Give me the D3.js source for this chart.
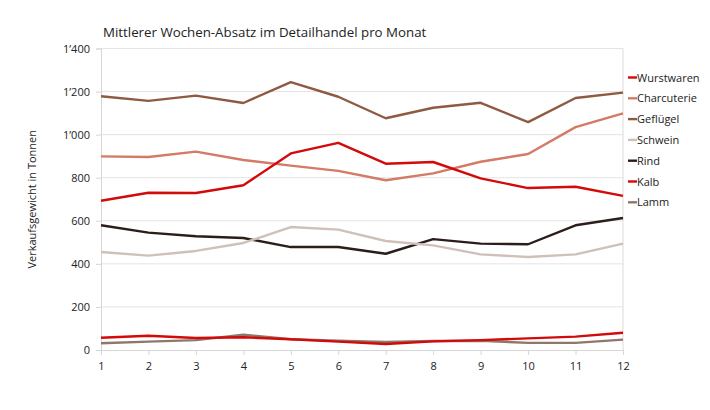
<!DOCTYPE html>
<html>
<head>
<meta charset="utf-8">
<script src="https://cdn.jsdelivr.net/npm/d3@7"></script>
<style>
  body { margin: 0; background: #fff; }
  text { font-family: "Open Sans", "Noto Sans", sans-serif; fill: #222; }
</style>
</head>
<body>
<div id="container"></div>
<script>
let w = 710;
let h = 410;

// data
let months = [1, 2, 3, 4, 5, 6, 7, 8, 9, 10, 11, 12];
let seriesNames = ["Wurstwaren", "Charcuterie", "Geflügel", "Schwein", "Rind", "Kalb", "Lamm"];
let wurstwaren = [693, 730, 729, 765, 913, 962, 865, 873, 797, 752, 758, 716];
let charcuterie = [899, 896, 921, 882, 856, 832, 788, 820, 874, 910, 1035, 1099];
let gefluegel = [1178, 1157, 1181, 1147, 1244, 1176, 1076, 1125, 1148, 1058, 1170, 1195];
let schwein = [455, 438, 460, 497, 571, 559, 506, 486, 444, 432, 444, 494];
let rind = [579, 545, 528, 520, 478, 478, 447, 515, 494, 491, 579, 613];
let kalb = [57, 66, 56, 59, 50, 39, 28, 40, 46, 54, 62, 80];
let lamm = [31, 39, 46, 71, 50, 43, 37, 42, 43, 33, 33, 48];
let yTicks = [0, 200, 400, 600, 800, 1000, 1200, 1400];
let colors = ["#d20a0a", "#d47a66", "#8e5a42", "#cfc1b9", "#2b1d1a", "#d20a0a", "#8f776a"];

let allSeries = [wurstwaren, charcuterie, gefluegel, schwein, rind, kalb, lamm];

let viz = d3.select("#container").append("svg")
    .attr("width", w)
    .attr("height", h)
    .style("display", "block");

let plotLeft = 101, plotRight = 623, plotTop = 48.5, plotBottom = 350;

let xScale = d3.scaleLinear().domain([1, 12]).range([plotLeft, plotRight]);
let yScale = d3.scaleLinear().domain([0, 1400]).range([plotBottom, plotTop]);

// gridlines
viz.append("g").selectAll("line")
  .data(yTicks.slice(1))
  .join("line")
  .attr("x1", plotLeft).attr("x2", plotRight)
  .attr("y1", d => yScale(d)).attr("y2", d => yScale(d))
  .attr("stroke", "#e4e4e4").attr("stroke-width", 1);

// right border
viz.append("line")
  .attr("x1", plotRight).attr("x2", plotRight)
  .attr("y1", plotTop).attr("y2", plotBottom)
  .attr("stroke", "#dcdcdc");

let fmt = d => d >= 1000 ? Math.floor(d / 1000) + "’" + String(d % 1000).padStart(3, "0") : String(d);

let yAxis = d3.axisLeft(yScale).tickValues(yTicks).tickFormat(fmt).tickSize(5).tickPadding(6);
let yAxisGroup = viz.append("g").attr("transform", "translate(" + plotLeft + ",0)").call(yAxis);
yAxisGroup.selectAll("line, path").attr("stroke", "#d6d6d6");
yAxisGroup.selectAll("text").style("font-size", "11px").attr("fill", "#222");

let xAxis = d3.axisBottom(xScale).tickValues(months).tickSize(5).tickPadding(7);
let xAxisGroup = viz.append("g").attr("transform", "translate(0," + plotBottom + ")").call(xAxis);
xAxisGroup.selectAll("line, path").attr("stroke", "#d6d6d6");
xAxisGroup.selectAll("text").style("font-size", "11px").attr("fill", "#222");

// lines
let line = d3.line().x((d, i) => xScale(months[i])).y(d => yScale(d));
// draw in reverse so Wurstwaren sits on top
for (let k = allSeries.length - 1; k >= 0; k--) {
  viz.append("path")
    .datum(allSeries[k])
    .attr("d", line)
    .attr("fill", "none")
    .attr("stroke", colors[k])
    .attr("stroke-width", 2.4)
    .attr("stroke-linejoin", "round");
}

// legend
let legend = viz.append("g").attr("transform", "translate(628,77.5)");
let items = legend.selectAll("g").data(seriesNames).join("g")
  .attr("transform", (d, i) => "translate(0," + (i * 20.8) + ")");
items.append("line").attr("x1", 0).attr("x2", 9).attr("y1", 0).attr("y2", 0)
  .attr("stroke", (d, i) => colors[i]).attr("stroke-width", 2.4);
items.append("text").attr("x", 9).attr("y", 4).text(d => d).style("font-size", "11px");

// title
viz.append("text").attr("x", 103).attr("y", 37).text("Mittlerer Wochen-Absatz im Detailhandel pro Monat")
  .style("font-size", "13.3px");

// y label
viz.append("text")
  .attr("transform", "translate(36," + ((plotTop + plotBottom) / 2) + ") rotate(-90)")
  .attr("text-anchor", "middle")
  .text("Verkaufsgewicht in Tonnen")
  .style("font-size", "11px");
</script>
</body>
</html>
